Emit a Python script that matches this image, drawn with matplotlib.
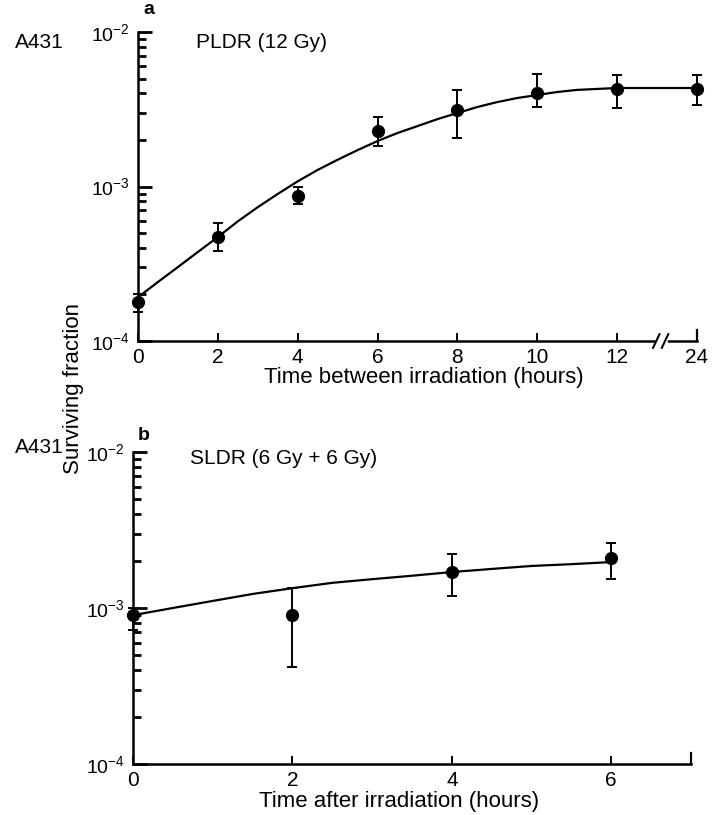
#!/usr/bin/env python3
"""A431 PLDR / SLDR surviving fraction panels."""

import matplotlib

matplotlib.use("Agg")
import matplotlib.pyplot as plt
import numpy as np
from matplotlib.ticker import FixedLocator, LogLocator, LogFormatterMathtext, NullFormatter

plt.rcParams["font.family"] = ["Liberation Sans", "DejaVu Sans"]
plt.rcParams["mathtext.fontset"] = "custom"
plt.rcParams["mathtext.rm"] = "Liberation Sans"
plt.rcParams["mathtext.it"] = "Liberation Sans"

# panel a: PLDR (12 Gy)
pldr_hours = [0, 2, 4, 6, 8, 10, 12, 24]
pldr_sf = [1.78e-4, 4.7e-4, 8.7e-4, 2.3e-3, 3.15e-3, 4.05e-3, 4.3e-3, 4.3e-3]
pldr_hi = [2.0e-4, 5.8e-4, 1.0e-3, 2.8e-3, 4.2e-3, 5.35e-3, 5.25e-3, 5.3e-3]
pldr_lo = [1.55e-4, 3.8e-4, 7.7e-4, 1.84e-3, 2.07e-3, 3.28e-3, 3.2e-3, 3.38e-3]
# fitted curve, every half hour
pldr_fit_hours = [0, 0.5, 1, 1.5, 2, 2.5, 3, 3.5, 4, 4.5, 5, 5.5, 6, 6.5, 7, 7.5,
                  8, 8.5, 9, 9.5, 10, 10.5, 11, 11.5, 12, 24]
pldr_fit = [1.92e-4, 2.41e-4, 3.01e-4, 3.77e-4, 4.71e-4, 5.95e-4, 7.35e-4, 8.95e-4,
            1.08e-3, 1.28e-3, 1.49e-3, 1.72e-3, 1.97e-3, 2.22e-3, 2.46e-3, 2.73e-3,
            2.99e-3, 3.27e-3, 3.52e-3, 3.74e-3, 3.91e-3, 4.09e-3, 4.22e-3, 4.28e-3,
            4.34e-3, 4.34e-3]
pldr_ticks = [0, 2, 4, 6, 8, 10, 12, 24]

# panel b: SLDR (6 Gy + 6 Gy)
sldr_hours = [0, 2, 4, 6]
sldr_sf = [9.0e-4, 9.0e-4, 1.70e-3, 2.09e-3]
sldr_hi = [1.0e-3, 1.34e-3, 2.22e-3, 2.61e-3]
sldr_lo = [7.2e-4, 4.2e-4, 1.19e-3, 1.53e-3]
sldr_fit_hours = [0, 0.5, 1, 1.5, 2, 2.5, 3, 3.5, 4, 4.5, 5, 5.5, 6]
sldr_fit = [9.0e-4, 1.0e-3, 1.11e-3, 1.23e-3, 1.34e-3, 1.45e-3, 1.53e-3, 1.61e-3,
            1.70e-3, 1.78e-3, 1.86e-3, 1.91e-3, 1.97e-3]
sldr_ticks = [0, 2, 4, 6]


def pos(h):
    # broken axis: 24 h is drawn just after the break
    h = np.asarray(h, float)
    return np.where(h > 12, 14.0, h)


def style(ax, xlim):
    ax.set_yscale("log")
    ax.set_ylim(1e-4, 1e-2)
    ax.set_xlim(*xlim)
    for s in ("top", "right"):
        ax.spines[s].set_visible(False)
    for s in ("left", "bottom"):
        ax.spines[s].set_linewidth(1.8)
    ax.yaxis.set_major_locator(LogLocator(base=10))
    ax.yaxis.set_major_formatter(LogFormatterMathtext())
    ax.yaxis.set_minor_locator(LogLocator(base=10, subs=np.arange(2, 10)))
    ax.yaxis.set_minor_formatter(NullFormatter())
    ax.tick_params(axis="y", which="major", direction="in", length=10, width=2, labelsize=14, pad=6)
    ax.tick_params(axis="y", which="minor", direction="in", length=6, width=2)
    ax.tick_params(axis="x", direction="in", length=6, width=1.4, labelsize=15, pad=5)


def draw(ax, x, y, lo, hi, fx, fy):
    y = np.asarray(y)
    err = [y - np.asarray(lo), np.asarray(hi) - y]
    ax.errorbar(x, y, yerr=err, fmt="o", color="black", ms=8.5, elinewidth=1.4,
                capsize=3.5, capthick=1.4, clip_on=False, zorder=3)
    ax.plot(fx, fy, color="black", lw=1.6, clip_on=False, zorder=2)


fig = plt.figure(figsize=(7.16, 8.15), dpi=100)

# --- panel a ---
ax1 = fig.add_axes([138 / 716, 1 - 341 / 815, 559 / 716, 309 / 815])
style(ax1, (0, 14))
draw(ax1, pos(pldr_hours), pldr_sf, pldr_lo, pldr_hi, pos(pldr_fit_hours), pldr_fit)
ax1.xaxis.set_major_locator(FixedLocator(pos(pldr_ticks)))
ax1.set_xticklabels([str(t) for t in pldr_ticks])
trans = ax1.get_xaxis_transform()
ax1.plot([14, 14], [0, 0.035], transform=trans, color="black", lw=1.6, clip_on=False)
# axis break marks
ax1.plot([13.02, 13.2], [0, 0], transform=trans, color="white", lw=4, clip_on=False, zorder=4)
for bx in (12.9, 13.12):
    ax1.plot([bx, bx + 0.16], [-0.022, 0.022], transform=trans, color="black", lw=1.5,
             clip_on=False, zorder=5)
ax1.set_xlabel("Time between irradiation (hours)", fontsize=16, labelpad=0)
ax1.xaxis.set_label_coords(0.512, -0.085)
fig.text(15 / 716, 1 - 43 / 815, "A431", fontsize=15, va="center", ha="left")
fig.text(143 / 716, 1 - 10 / 815, "a", fontsize=14, fontweight="bold", va="center", ha="left")
fig.text(196 / 716, 1 - 43 / 815, "PLDR (12 Gy)", fontsize=15, va="center", ha="left")

# --- panel b ---
ax2 = fig.add_axes([133 / 716, 1 - 764 / 815, 558 / 716, 312 / 815])
style(ax2, (0, 7))
draw(ax2, sldr_hours, sldr_sf, sldr_lo, sldr_hi, sldr_fit_hours, sldr_fit)
ax2.xaxis.set_major_locator(FixedLocator(sldr_ticks))
ax2.set_xticklabels([str(t) for t in sldr_ticks])
ax2.plot([7, 7], [0, 0.035], transform=ax2.get_xaxis_transform(), color="black",
         lw=1.6, clip_on=False)
ax2.set_xlabel("Time after irradiation (hours)", fontsize=16, labelpad=0)
ax2.xaxis.set_label_coords(0.477, -0.085)
fig.text(15 / 716, 1 - 447 / 815, "A431", fontsize=15, va="center", ha="left")
fig.text(138 / 716, 1 - 436 / 815, "b", fontsize=14, fontweight="bold", va="center", ha="left")
fig.text(190 / 716, 1 - 458 / 815, "SLDR (6 Gy + 6 Gy)", fontsize=15, va="center", ha="left")

fig.text(74 / 716, 1 - 388 / 815, "Surviving fraction", fontsize=16, rotation=90,
         va="center", ha="center")

fig.savefig("out.png", dpi=100)
